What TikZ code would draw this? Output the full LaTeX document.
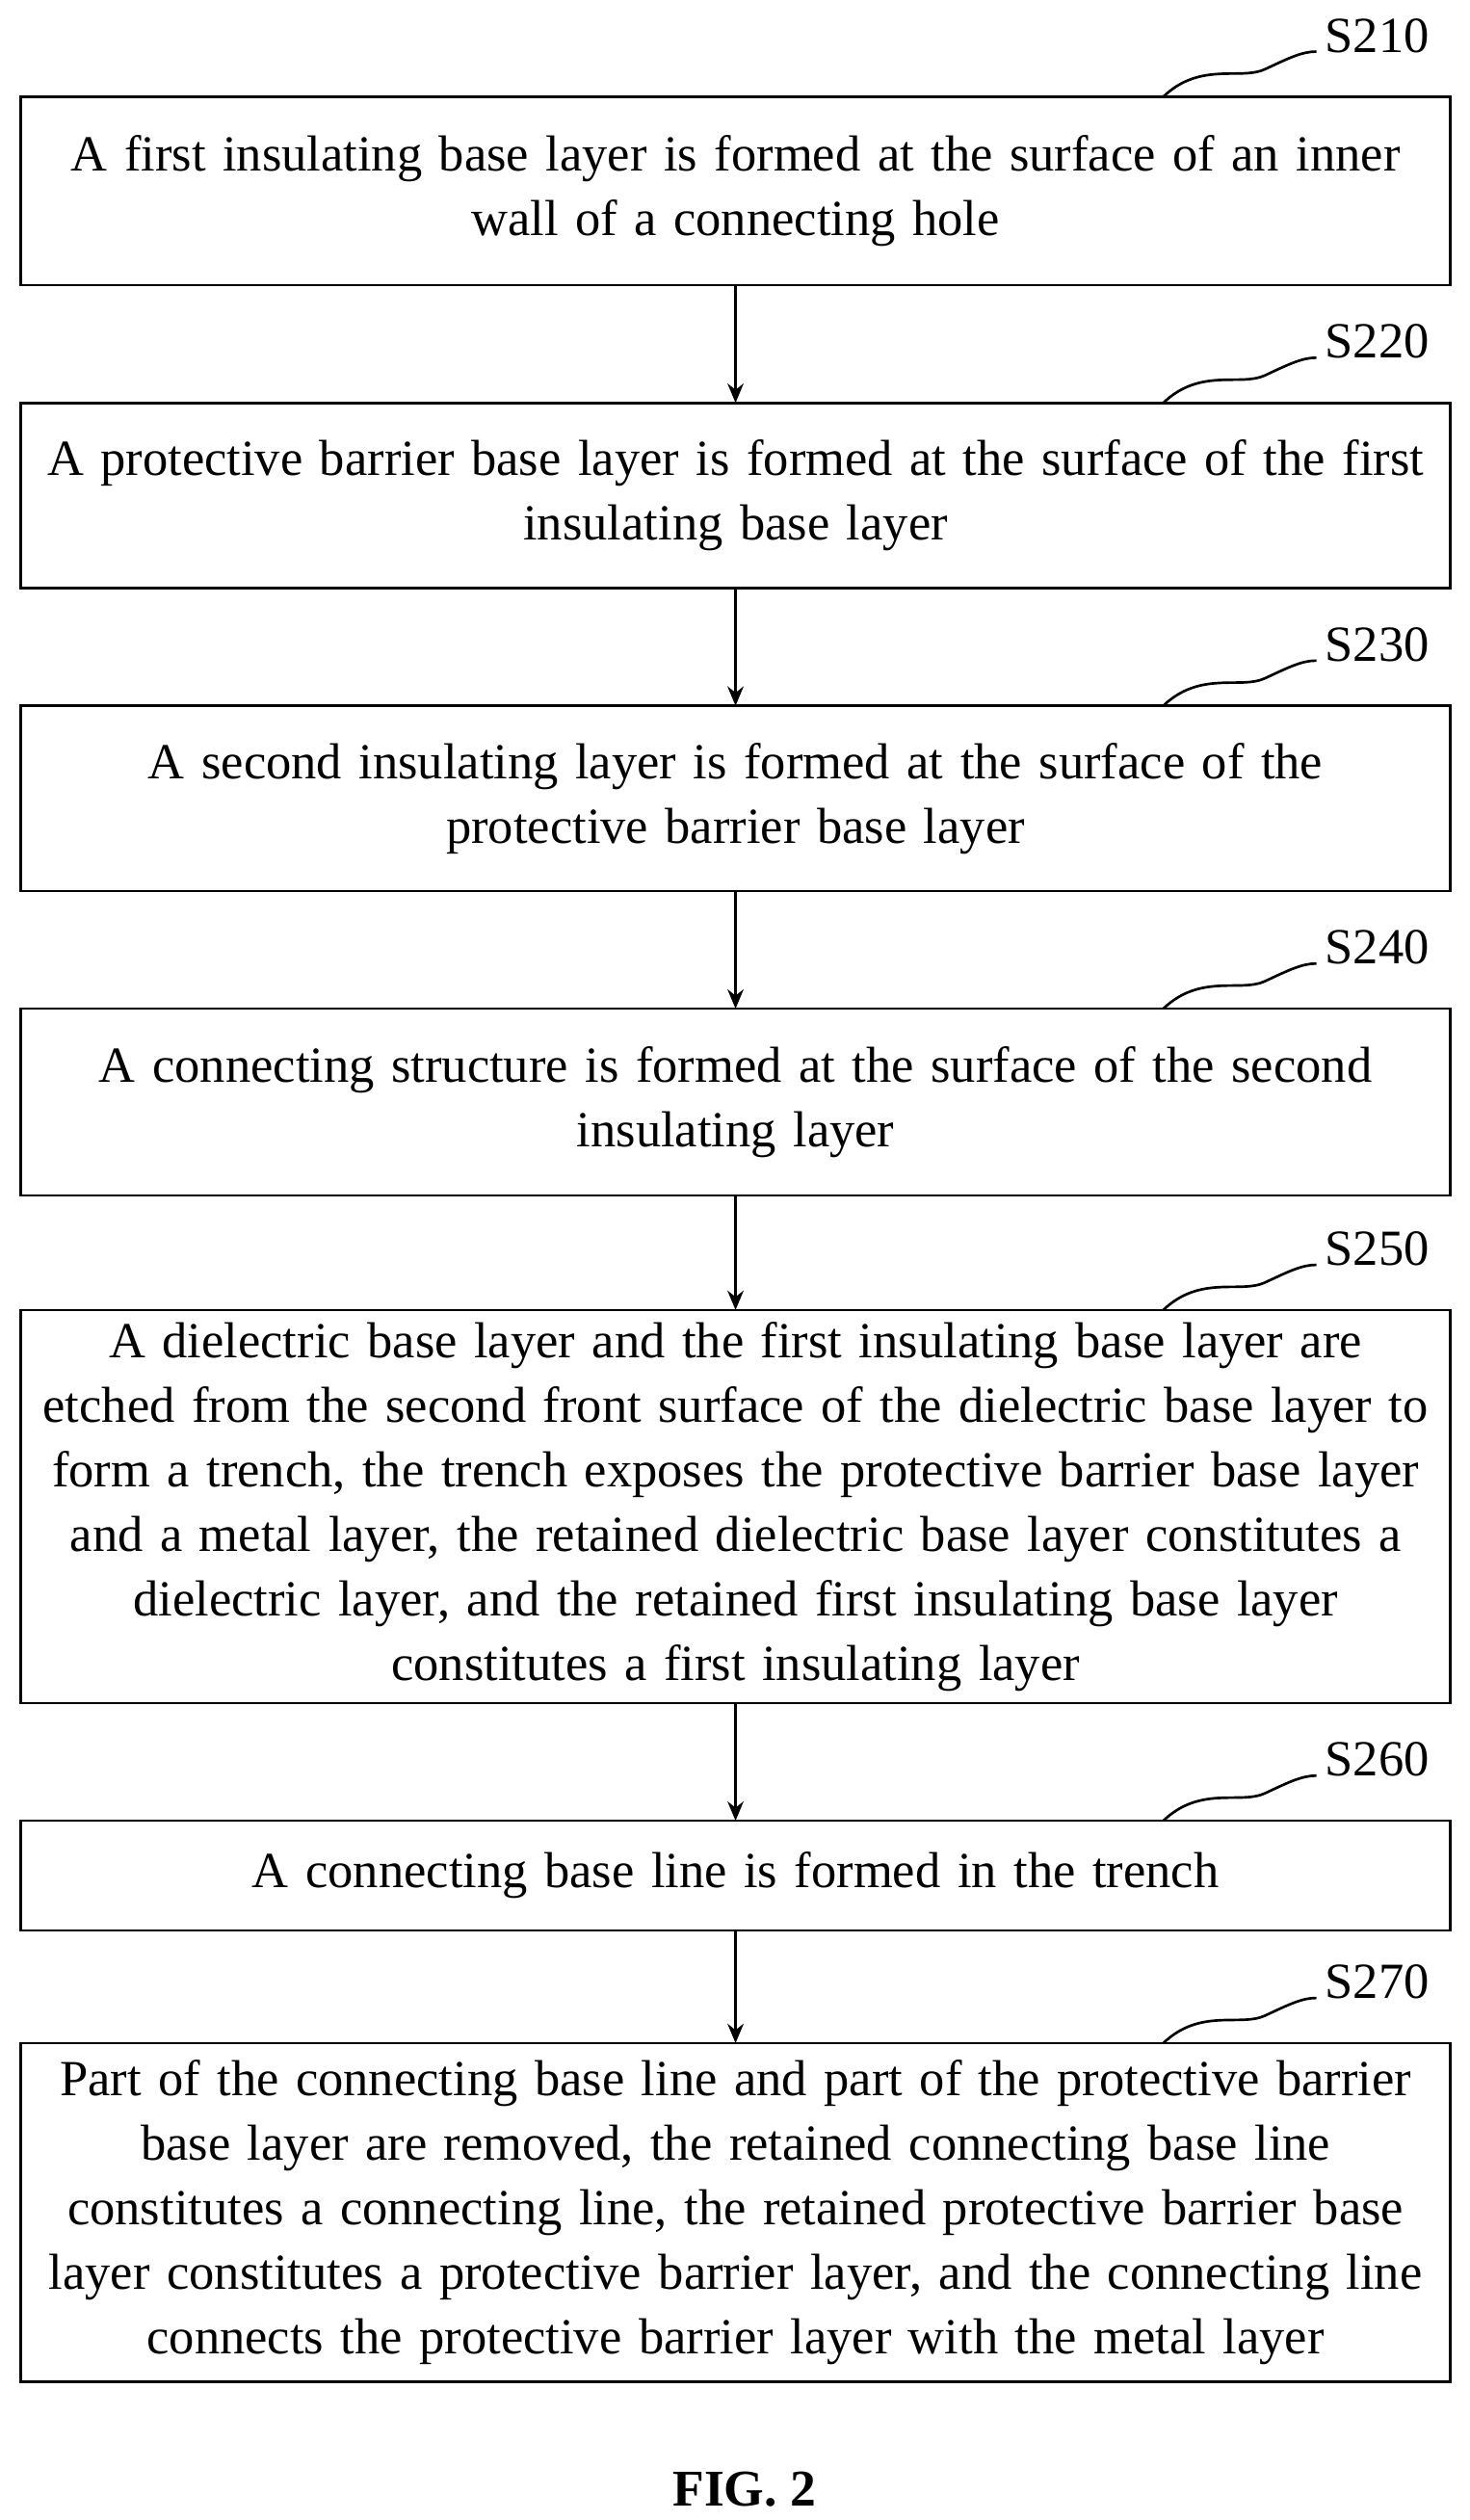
\documentclass[tikz,border=0pt]{standalone}
\usepackage{fontspec}
\setmainfont{Liberation Serif}
\usetikzlibrary{arrows.meta,positioning}

\tikzset{
    stepbox/.style={text width=444pt, align=center, inner sep=0pt,
        font=\fontsize{15.7}{20}\selectfont},
    lbl/.style={right, inner sep=0pt, font=\fontsize{15.7}{18}\selectfont},
    flow/.style={-{Stealth[length=6pt,width=5pt]}, thick}
}

\begin{document}
\begin{tikzpicture}[x=0.5pt, y=-0.5pt]
    \useasboundingbox (0,0) rectangle (912,1564);

    % Steps: name / top / bottom / label / text
    \foreach \n/\t/\b/\s/\txt in {
        a/60/177/S210/{A first insulating base layer is formed at the surface of an inner\\wall of a connecting hole},
        b/250/365/S220/{A protective barrier base layer is formed at the surface of the first\\insulating base layer},
        c/438/553/S230/{A second insulating layer is formed at the surface of the\\protective barrier base layer},
        d/626/742/S240/{A connecting structure is formed at the surface of the second\\insulating layer},
        e/813/1057/S250/{A dielectric base layer and the first insulating base layer are\\etched from the second front surface of the dielectric base layer to\\form a trench, the trench exposes the protective barrier base layer\\and a metal layer, the retained dielectric base layer constitutes a\\dielectric layer, and the retained first insulating base layer\\constitutes a first insulating layer},
        f/1130/1198/S260/{A connecting base line is formed in the trench},
        g/1268/1478/S270/{Part of the connecting base line and part of the protective barrier\\base layer are removed, the retained connecting base line\\constitutes a connecting line, the retained protective barrier base\\layer constitutes a protective barrier layer, and the connecting line\\connects the protective barrier layer with the metal layer}
    } {
        \draw[thick] (13,\t) rectangle (900,\b);
        \node[stepbox] (\n) at (456.5,{(\t+\b)/2}) {\txt};
        \coordinate (\n t) at (456.5,\t);
        \coordinate (\n b) at (456.5,\b);
        % Squiggle to step label
        \draw[thick] (722,\t) .. controls (745,\t-22) and (770,\t-10) .. (785,\t-17)
            .. controls (800,\t-24) and (808,\t-28) .. (817,\t-28);
        \node[lbl] at (822,\t-38) {\s};
    }

    \draw[flow] (ab) -- (bt);
    \draw[flow] (bb) -- (ct);
    \draw[flow] (cb) -- (dt);
    \draw[flow] (db) -- (et);
    \draw[flow] (eb) -- (ft);
    \draw[flow] (fb) -- (gt);

    \node[font=\fontsize{16}{19}\selectfont\bfseries] (fig) at (462,1545) {FIG. 2};
\end{tikzpicture}
\end{document}
